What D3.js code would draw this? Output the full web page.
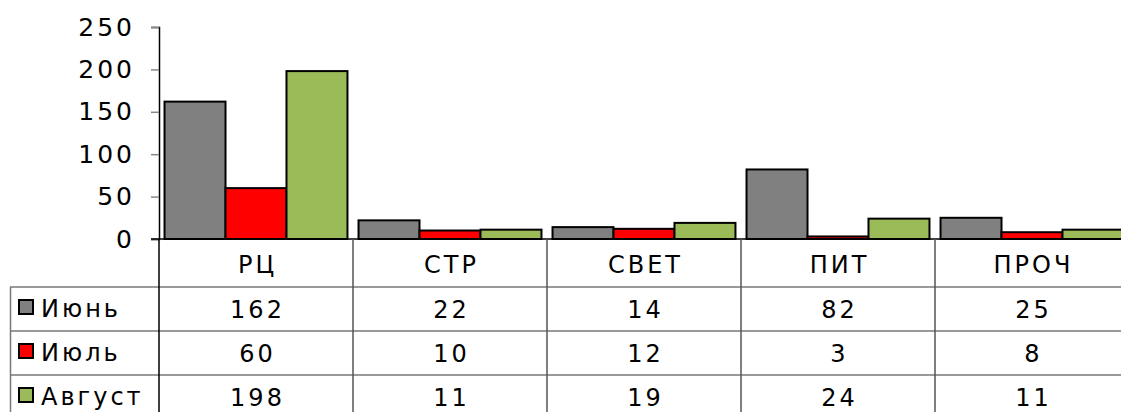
<!DOCTYPE html>
<html>
<head>
<meta charset="utf-8">
<script src="https://cdn.jsdelivr.net/npm/d3@7"></script>
<style>
  body { margin: 0; background: #fff; }
  svg text { font-family: "DejaVu Sans", sans-serif; fill: #000; }
</style>
</head>
<body>
<div id="chart"></div>
<script>
const categories = ["РЦ", "СТР", "СВЕТ", "ПИТ", "ПРОЧ"];
const seriesNames = ["Июнь", "Июль", "Август"];
const june = [162, 22, 14, 82, 25];
const july = [60, 10, 12, 3, 8];
const august = [198, 11, 19, 24, 11];
const yTicks = [0, 50, 100, 150, 200, 250];
const colors = ["#808080", "#ff0000", "#9bbb59"];

const W = 1121, H = 412;
const plotLeft = 159, plotTop = 27, zeroY = 239;
const bandW = 194;
const rowH = 44;
const headerBottom = 287;

const seriesData = [june, july, august];

const svg = d3.select("#chart").append("svg")
  .attr("width", W).attr("height", H);

//---------------------------------------------------------------scales
const x = d3.scaleBand()
  .domain(categories)
  .range([plotLeft, plotLeft + bandW * categories.length])
  .paddingInner(0.057)
  .paddingOuter(0.0285);

const xs = d3.scaleBand()
  .domain(seriesNames)
  .range([0, x.bandwidth()]);

const y = d3.scaleLinear()
  .domain([0, 250])
  .range([zeroY, plotTop]);

//---------------------------------------------------------------bars
const groups = svg.selectAll("g.grp")
  .data(categories)
  .enter().append("g")
  .attr("class", "grp")
  .attr("transform", d => "translate(" + x(d) + ",0)");

groups.selectAll("rect")
  .data((c, ci) => seriesNames.map((s, si) => ({ s: s, si: si, v: seriesData[si][ci] })))
  .enter().append("rect")
  .attr("x", d => xs(d.s))
  .attr("width", xs.bandwidth())
  .attr("y", d => y(d.v))
  .attr("height", d => zeroY - y(d.v))
  .attr("fill", d => colors[d.si])
  .attr("stroke", "#000")
  .attr("stroke-width", 2);

//---------------------------------------------------------------y axis
const yAxis = d3.axisLeft(y).tickValues(yTicks).tickSize(8).tickPadding(16);
const yg = svg.append("g")
  .attr("transform", "translate(" + plotLeft + ",0)")
  .call(yAxis);
yg.select(".domain").attr("stroke", "#000").attr("stroke-width", 1.5);
yg.selectAll(".tick line").attr("stroke", "#888").attr("stroke-width", 1.5);
yg.selectAll(".tick text")
  .style("font-size", "25px")
  .style("letter-spacing", "3px")
  .attr("fill", "#000");

//---------------------------------------------------------------data table
const table = svg.append("g");

// horizontal row lines
table.append("line")
  .attr("x1", 151).attr("x2", W).attr("y1", zeroY).attr("y2", zeroY)
  .attr("stroke", "#000").attr("stroke-width", 1.5);
[0, 1, 2].forEach(i => {
  table.append("line")
    .attr("x1", 10).attr("x2", W)
    .attr("y1", headerBottom + i * rowH).attr("y2", headerBottom + i * rowH)
    .attr("stroke", "#777").attr("stroke-width", 1.5);
});

// vertical lines
categories.forEach((c, i) => {
  const xv = plotLeft + i * bandW;
  table.append("line")
    .attr("x1", xv).attr("x2", xv).attr("y1", zeroY).attr("y2", H)
    .attr("stroke", i === 0 ? "#000" : "#555").attr("stroke-width", 1.5);
});
table.append("line")
  .attr("x1", 10.5).attr("x2", 10.5).attr("y1", headerBottom).attr("y2", H)
  .attr("stroke", "#777").attr("stroke-width", 1.5);

// category labels
table.selectAll("text.cat")
  .data(categories)
  .enter().append("text")
  .attr("class", "cat")
  .attr("x", d => plotLeft + categories.indexOf(d) * bandW + bandW / 2 + 1.5)
  .attr("y", zeroY + 34)
  .attr("text-anchor", "middle")
  .style("font-size", "24px")
  .style("letter-spacing", "3px")
  .text(d => d);

// series rows
seriesNames.forEach((s, si) => {
  const rowTop = headerBottom + si * rowH;
  table.append("rect")
    .attr("x", 19).attr("y", rowTop + 13)
    .attr("width", 14).attr("height", 14)
    .attr("fill", colors[si])
    .attr("stroke", "#000").attr("stroke-width", 2);
  table.append("text")
    .attr("x", 41).attr("y", rowTop + 30)
    .style("font-size", "24px")
    .style("letter-spacing", "3px")
    .text(s);
  table.selectAll("text.v" + si)
    .data(seriesData[si])
    .enter().append("text")
    .attr("class", "v" + si)
    .attr("x", (d, i) => plotLeft + i * bandW + bandW / 2 + 1.5)
    .attr("y", rowTop + 31)
    .attr("text-anchor", "middle")
    .style("font-size", "24px")
    .style("letter-spacing", "3px")
    .text(d => d);
});
</script>
</body>
</html>
